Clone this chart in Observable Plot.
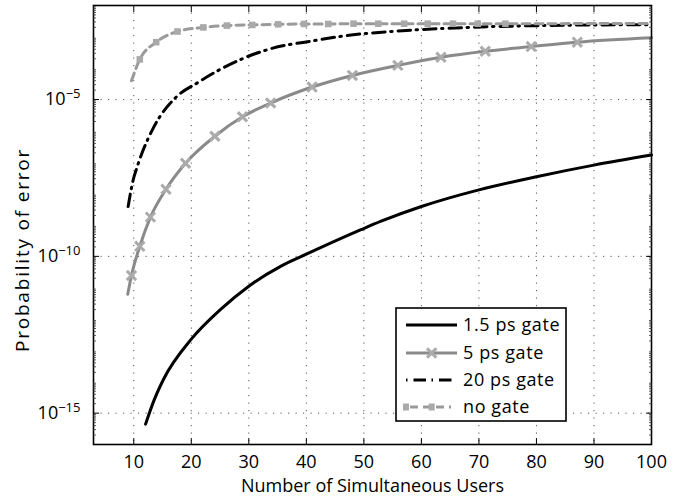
<!DOCTYPE html>
<html>
<head>
<meta charset="utf-8">
<script src="https://cdn.jsdelivr.net/npm/d3@7"></script>
<script src="https://cdn.jsdelivr.net/npm/@observablehq/plot@0.6"></script>
<style>
  body { margin: 0; background: #fff; }
  #chart { width: 694px; height: 499px; }
</style>
</head>
<body>
<div id="chart"></div>
<script>
// ---- tick labels ----
const xTicks = [10, 20, 30, 40, 50, 60, 70, 80, 90, 100];
const yTickValues = [1e-15, 1e-10, 1e-5];
const yTickExponents = ["−15", "−10", "−5"];
const xLabel = "Number of Simultaneous Users";
const yLabel = "Probability of error";
const seriesNames = ["1.5 ps gate", "5 ps gate", "20 ps gate", "no gate"];

// ---- series values ----
const gate15X = [12.05, 13.5, 15.2, 20, 25.1, 30, 35.6, 40, 49.5, 53, 60, 70, 80, 90, 100];
const gate15Y = [4.47e-16, 2.51e-15, 1.23e-14, 2.29e-13, 2.04e-12, 1.12e-11, 4.90e-11, 1.17e-10,
                 7.08e-10, 1.32e-9, 3.89e-9, 1.32e-8, 3.47e-8, 8.13e-8, 1.70e-7];

const gate5X = [8.95, 9.6, 11.05, 12.9, 15.6, 19.0, 24.1, 28.9, 33.8, 41.0, 48.0, 55.9, 63.4, 71.1, 79.1, 87.1, 100];
const gate5Y = [6.17e-12, 2.45e-11, 2.09e-10, 1.78e-9, 1.38e-8, 9.33e-8, 6.76e-7, 2.82e-6, 7.76e-6,
                2.51e-5, 5.89e-5, 1.23e-4, 2.24e-4, 3.47e-4, 4.90e-4, 6.76e-4, 9.33e-4];

const gate20X = [9.02, 9.9, 10.6, 13.5, 17.2, 21.2, 25.7, 29.5, 33.8, 41.4, 47, 51.2, 58.8, 68.1, 80.9, 100];
const gate20Y = [3.89e-9, 2.75e-8, 7.24e-8, 1.35e-6, 1.12e-5, 3.55e-5, 1.07e-4, 2.24e-4, 4.17e-4,
                 7.59e-4, 1.10e-3, 1.32e-3, 1.66e-3, 2.00e-3, 2.29e-3, 2.45e-3];

const noGateX = [9.6, 11.05, 13.9, 17.6, 22.1, 26.2, 30.6, 35.1, 39.6, 43.8, 48.2, 52.5, 57, 61.1, 65.5, 69.8, 74.6, 100];
const noGateY = [3.98e-5, 1.91e-4, 6.76e-4, 1.48e-3, 2.00e-3, 2.29e-3, 2.40e-3, 2.51e-3, 2.57e-3,
                 2.57e-3, 2.63e-3, 2.63e-3, 2.63e-3, 2.63e-3, 2.63e-3, 2.63e-3, 2.63e-3, 2.69e-3];

// ---- tables ----
const rows = (name, xs, ys) => xs.map((x, i) => ({series: name, x, y: ys[i], i}));
const gate15 = rows(seriesNames[0], gate15X, gate15Y);
const gate5 = rows(seriesNames[1], gate5X, gate5Y);
const gate20 = rows(seriesNames[2], gate20X, gate20Y);
const noGate = rows(seriesNames[3], noGateX, noGateY);
const gate5Marks = gate5.slice(1, -1);
const noGateMarks = noGate.slice(1, -1);

// minor log ticks (2..9 per decade)
const yMinor = [];
for (let e = -16; e < -2; e++) for (let m = 2; m <= 9; m++) yMinor.push(m * Math.pow(10, e));

const FONT = "Open Sans";
const C5 = "#8a8a8a", C5M = "#ababab", CNG = "#9a9a9a", CNGM = "#a9a9a9";
const DASHDOT = "12.5,5.5,1.5,6";

const chart = Plot.plot({
  width: 694,
  height: 499,
  marginLeft: 93,
  marginRight: 43,
  marginTop: 5,
  marginBottom: 55,
  style: {fontFamily: FONT, fontSize: "18px", color: "#000", background: "#fff"},
  x: {domain: [3, 100]},
  y: {type: "log", domain: [1e-16, 1e-2]},
  marks: [
    Plot.ruleX(xTicks.slice(0, -1), {stroke: "#555", strokeWidth: 1, strokeDasharray: "1.2,6.3"}),
    Plot.ruleY(yTickValues, {stroke: "#555", strokeWidth: 1, strokeDasharray: "1.2,6.3"}),
    Plot.line(gate15, {x: "x", y: "y", stroke: "#000", strokeWidth: 3, curve: "monotone-x"}),
    Plot.line(gate5, {x: "x", y: "y", stroke: C5, strokeWidth: 3, curve: "monotone-x"}),
    Plot.dot(gate5Marks, {x: "x", y: "y", symbol: "times", r: 4.3, stroke: C5M, strokeWidth: 3}),
    Plot.line(gate20, {x: "x", y: "y", stroke: "#000", strokeWidth: 3, strokeDasharray: DASHDOT, curve: "monotone-x"}),
    Plot.line(noGate, {x: "x", y: "y", stroke: CNG, strokeWidth: 3, strokeDasharray: "8,5", curve: "monotone-x"}),
    Plot.dot(noGateMarks, {x: "x", y: "y", symbol: "square", r: 3.7, fill: CNGM, stroke: "none"}),
    Plot.frame({stroke: "#000", strokeWidth: 1.6}),
    // tick labels
    Plot.axisX({ticks: xTicks, tickSize: 0, tickPadding: 11, tickFormat: d => String(d), label: null, fontSize: 18}),
    Plot.axisY({ticks: yTickValues, tickSize: 0, tickPadding: 13,
      tickFormat: d => "10|" + yTickExponents[yTickValues.indexOf(d)], label: null, fontSize: 18}),
    // inward ticks
    Plot.axisX({ticks: xTicks.slice(0, -1), anchor: "bottom", tickSize: -6, tickFormat: () => "", label: null}),
    Plot.axisX({ticks: xTicks.slice(0, -1), anchor: "top", tickSize: -6, tickFormat: () => "", label: null}),
    Plot.axisY({ticks: yTickValues, anchor: "left", tickSize: -6, tickFormat: () => "", label: null}),
    Plot.axisY({ticks: yTickValues, anchor: "right", tickSize: -6, tickFormat: () => "", label: null}),
    Plot.axisY({ticks: yMinor, anchor: "left", tickSize: -3, stroke: "#333", strokeWidth: 0.8, tickFormat: () => "", label: null}),
    Plot.axisY({ticks: yMinor, anchor: "right", tickSize: -3, stroke: "#333", strokeWidth: 0.8, tickFormat: () => "", label: null}),
    // axis titles
    Plot.text([xLabel], {frameAnchor: "bottom", dy: 42, lineAnchor: "middle", textAnchor: "middle", fontSize: 18, fill: "#000"}),
    Plot.text([yLabel], {frameAnchor: "left", dx: -71, dy: 25, rotate: -90, lineAnchor: "middle", textAnchor: "middle", fontSize: 19, fill: "#000"})
  ]
});

document.getElementById("chart").appendChild(chart);

const svg = d3.select(chart);
// remove empty tick-label texts
svg.selectAll("text").filter(function() { return this.textContent === ""; }).remove();
// superscript exponents on y tick labels
svg.selectAll("text").filter(function() { return this.textContent.startsWith("10|"); }).each(function() {
  const parts = this.textContent.split("|");
  const t = d3.select(this);
  t.text(parts[0]);
  t.append("tspan").attr("dy", "-0.55em").attr("font-size", "13px").text(parts[1]);
});
// letter spacing of the y title
svg.selectAll("text").filter(function() { return this.textContent === yLabel; }).attr("letter-spacing", "1.8px");

// ---- legend ----
const lg = svg.append("g").attr("font-family", FONT).attr("font-size", 18).attr("text-anchor", "start");
const bx = 396, by = 308, bw = 170, bh = 113;
lg.append("rect").attr("x", bx).attr("y", by).attr("width", bw).attr("height", bh)
  .attr("fill", "#fff").attr("stroke", "#000").attr("stroke-width", 1.6);
const ly = [325, 353, 380, 407];
const lx0 = 406, lx1 = 457, lxm = 431.7;
// 1.5 ps
lg.append("line").attr("x1", lx0).attr("x2", lx1).attr("y1", ly[0]).attr("y2", ly[0]).attr("stroke", "#000").attr("stroke-width", 3);
// 5 ps
lg.append("line").attr("x1", lx0).attr("x2", lx1).attr("y1", ly[1]).attr("y2", ly[1]).attr("stroke", C5).attr("stroke-width", 3);
lg.append("path").attr("d", d3.symbol(d3.symbolTimes, 58)()).attr("transform", `translate(${lxm},${ly[1]})`)
  .attr("fill", "none").attr("stroke", C5M).attr("stroke-width", 3);
// 20 ps
lg.append("line").attr("x1", lx0).attr("x2", lx1).attr("y1", ly[2]).attr("y2", ly[2]).attr("stroke", "#000")
  .attr("stroke-width", 3).attr("stroke-dasharray", DASHDOT).attr("stroke-dashoffset", 18);
// no gate
lg.append("line").attr("x1", lx0).attr("x2", lx1 - 6).attr("y1", ly[3]).attr("y2", ly[3]).attr("stroke", CNG)
  .attr("stroke-width", 3).attr("stroke-dasharray", "8,5").attr("stroke-dashoffset", -4);
[lx0, lxm].forEach(x => lg.append("rect").attr("x", x - 3).attr("y", ly[3] - 3.5).attr("width", 6).attr("height", 7).attr("fill", CNGM));
seriesNames.forEach((n, i) => lg.append("text").attr("x", 463).attr("y", ly[i]).attr("dy", "0.35em")
  .attr("letter-spacing", "0.6px").attr("fill", "#000").text(n));
</script>
</body>
</html>
